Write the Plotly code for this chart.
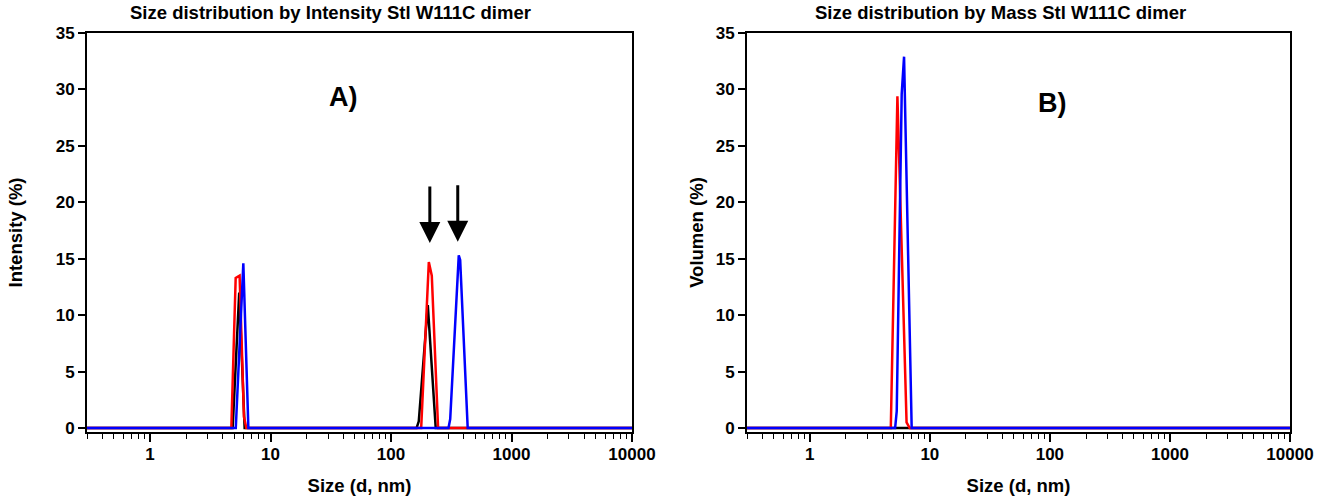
import plotly.graph_objects as go
import math

# ---------------- data ----------------
# Panel A: size distribution by intensity
int_black_x = [0.3, 4.85, 5.5, 6.1, 163, 170, 202, 235, 10000]
int_black_y = [0, 0, 12.0, 0, 0, 0.6, 10.9, 0, 0]
int_red_x = [0.3, 4.73, 5.14, 5.54, 6.02, 6.3, 178, 206, 218, 246, 10000]
int_red_y = [0, 0, 13.3, 13.5, 1.0, 0, 0, 14.7, 13.5, 0, 0]
int_blue_x = [0.3, 5.15, 5.95, 6.55, 300, 310, 365, 375, 433, 10000]
int_blue_y = [0, 0, 14.6, 0, 0, 0.8, 15.3, 14.9, 0, 0]

# Panel B: size distribution by mass (volume)
vol_black_x = [0.3, 10000]
vol_black_y = [0, 0]
vol_red_x = [0.3, 4.73, 5.37, 6.4, 6.8, 10000]
vol_red_y = [0, 0, 29.4, 0.5, 0, 0]
vol_blue_x = [0.3, 5.14, 5.3, 5.83, 6.1, 7.06, 10000]
vol_blue_y = [0, 0, 1.5, 29.6, 32.9, 0, 0]

# arrows in panel A (target size, target value)
arrow_x = [210, 358]
arrow_y = [16.4, 16.5]

x_tickvals = [1, 10, 100, 1000, 10000]
x_ticktext = ["1", "10", "100", "1000", "10000"]
y_tickvals = [0, 5, 10, 15, 20, 25, 30, 35]

titles = ["Size distribution by Intensity Stl W111C dimer",
          "Size distribution by Mass Stl W111C dimer"]
y_titles = ["Intensity (%)", "Volumen (%)"]
x_title = "Size (d, nm)"
panel_labels = ["A)", "B)"]

# ---------------- figure ----------------
W, H = 1327, 499
TOP, BOT = 33, 432
FONT = "Liberation Sans"
colors = {"black": "#000000", "red": "#ff0000", "blue": "#0000ff"}

fig = go.Figure()

def add(x, y, c, xa, ya):
    fig.add_trace(go.Scatter(x=x, y=y, mode="lines", xaxis=xa, yaxis=ya,
                             line=dict(color=colors[c], width=2.5),
                             showlegend=False, hoverinfo="skip"))

add(int_black_x, int_black_y, "black", "x", "y")
add(int_red_x, int_red_y, "red", "x", "y")
add(int_blue_x, int_blue_y, "blue", "x", "y")
add(vol_black_x, vol_black_y, "black", "x2", "y2")
add(vol_red_x, vol_red_y, "red", "x2", "y2")
add(vol_blue_x, vol_blue_y, "blue", "x2", "y2")

dom1 = [87 / W, 632 / W]
dom2 = [747 / W, 1290 / W]

def xaxis(domain, anchor):
    return dict(domain=domain, anchor=anchor, type="log", automargin=False,
                range=[math.log10(0.3), 4],
                tickvals=x_tickvals, ticktext=x_ticktext,
                ticks="outside", ticklen=8, tickwidth=1.5, tickcolor="black",
                ticklabelstandoff=-2,
                minor=dict(ticks="outside", ticklen=5, tickwidth=1.2,
                           tickcolor="black", dtick="D1", showgrid=False),
                showline=True, linecolor="black", linewidth=2, mirror=True,
                showgrid=False, zeroline=False,
                tickfont=dict(family=FONT, size=17, color="black", weight="bold"),
                title=dict(text=x_title, standoff=16,
                           font=dict(family=FONT, size=18.5, color="black", weight="bold")))

def yaxis(anchor, title, standoff):
    return dict(domain=[0, 1], anchor=anchor, range=[-0.35, 35], automargin=False,
                tickvals=y_tickvals, ticks="outside", ticklen=7, tickwidth=1.5,
                tickcolor="black",
                showline=True, linecolor="black", linewidth=2, mirror=True,
                showgrid=False, zeroline=False,
                tickfont=dict(family=FONT, size=17, color="black", weight="bold"),
                title=dict(text=title, standoff=standoff,
                           font=dict(family=FONT, size=18.5, color="black", weight="bold")))

annotations = []
# titles
for txt, px in zip(titles, [330, 1000]):
    annotations.append(dict(text=txt, x=px / W, y=1 + (TOP - 12) / (BOT - TOP),
                            xref="paper", yref="paper", showarrow=False,
                            xanchor="center", yanchor="middle",
                            font=dict(family=FONT, size=18.5, color="black", weight="bold")))
# panel labels
annotations.append(dict(text=panel_labels[0], x=1.603, y=29.3, xref="x", yref="y",
                        showarrow=False, font=dict(family=FONT, size=27, color="black", weight="bold")))
annotations.append(dict(text=panel_labels[1], x=2.025, y=28.8, xref="x2", yref="y2",
                        showarrow=False, font=dict(family=FONT, size=27, color="black", weight="bold")))
# arrows
for ax_, ay_ in zip(arrow_x, arrow_y):
    annotations.append(dict(x=math.log10(ax_), y=ay_, xref="x", yref="y", text="",
                            showarrow=True, arrowhead=2, arrowsize=1.4, arrowwidth=3,
                            arrowcolor="black", ax=0, ay=-58))

fig.update_layout(
    width=W, height=H,
    margin=dict(l=0, r=0, t=TOP, b=H - BOT, autoexpand=False),
    paper_bgcolor="white", plot_bgcolor="white",
    xaxis=xaxis(dom1, "y"), yaxis=yaxis("x", y_titles[0], 28),
    xaxis2=xaxis(dom2, "y2"), yaxis2=yaxis("x2", y_titles[1], 7),
    annotations=annotations,
)

fig.write_html("out.html", config={"displayModeBar": False},
               post_script="document.body.style.margin='0px';document.body.style.overflow='hidden';")
